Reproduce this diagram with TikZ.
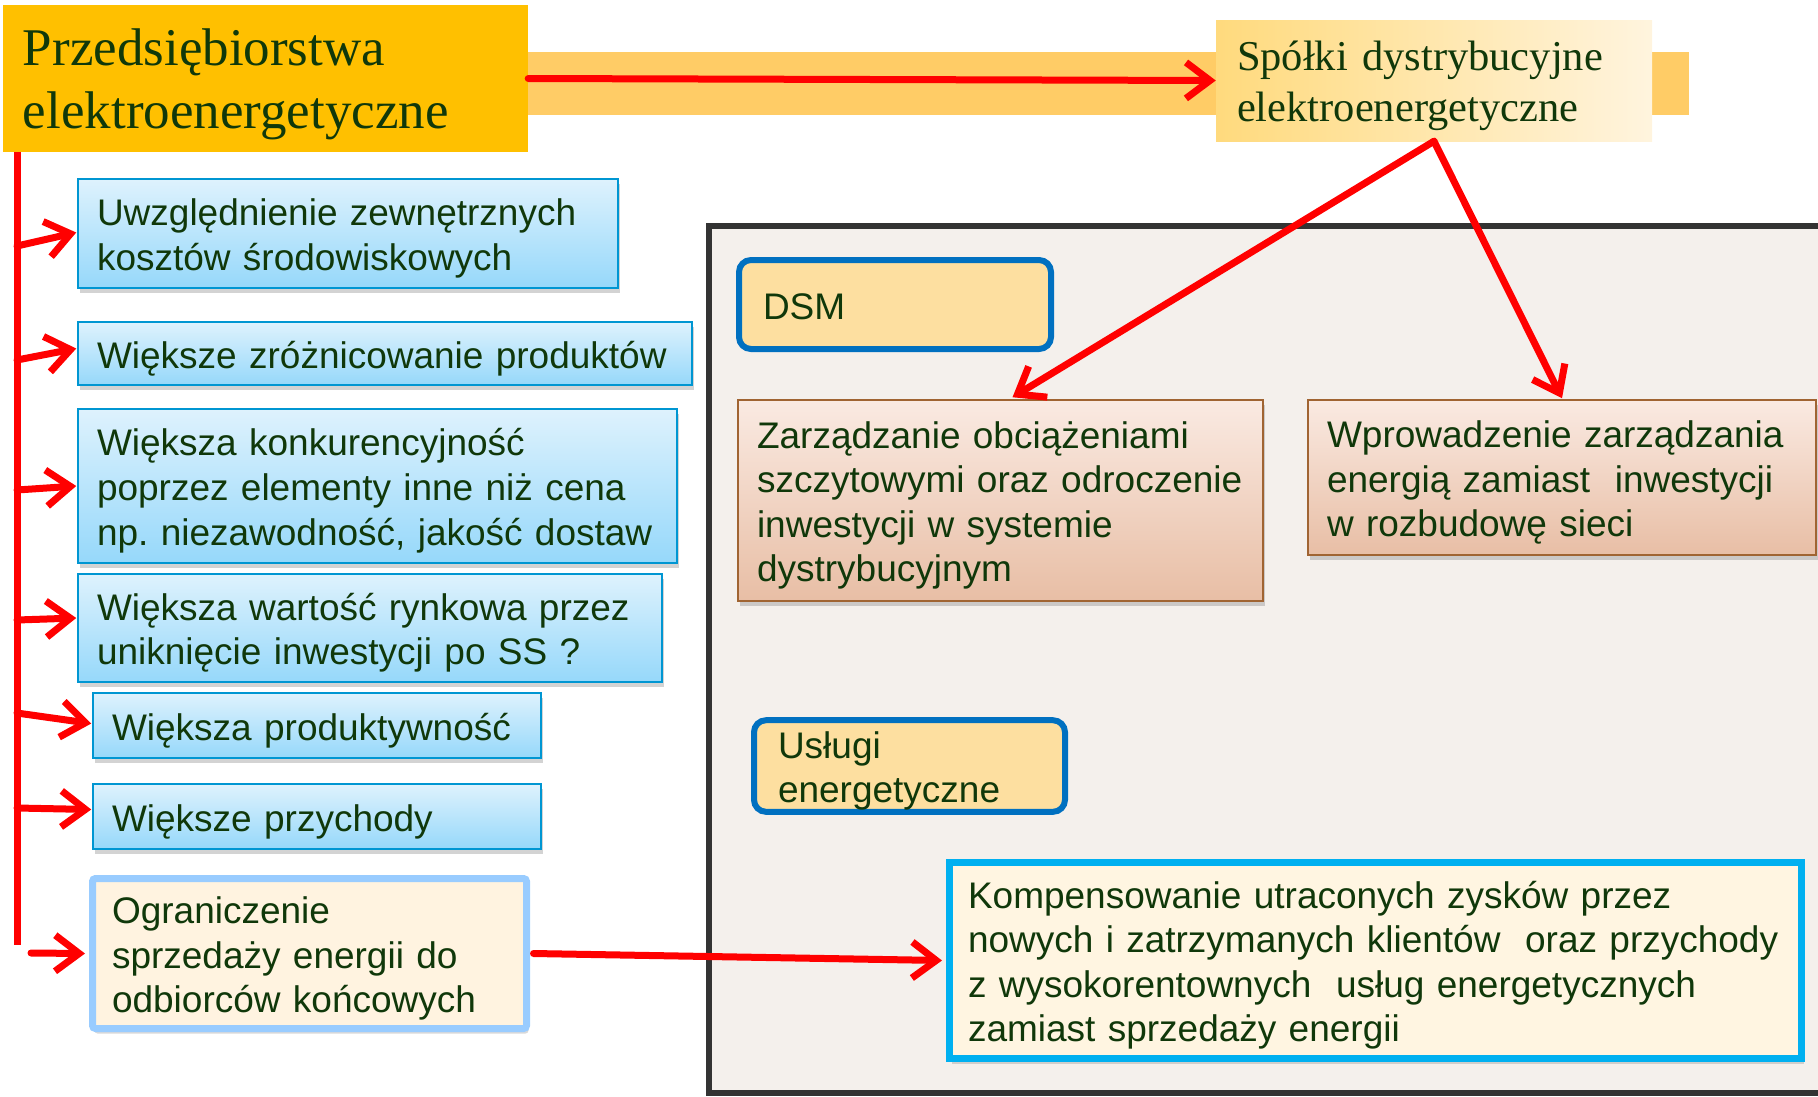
\documentclass[tikz,border=0pt]{standalone}
\usepackage{fontspec}
\newfontfamily\sansf{Liberation Sans}
\newfontfamily\seriff{Liberation Serif}
\usetikzlibrary{arrows.meta,shadows,calc}
\frenchspacing
\definecolor{tgreen}{RGB}{16,56,10}
\definecolor{orangeA}{RGB}{255,192,0}
\definecolor{bandc}{RGB}{255,204,102}
\definecolor{spl}{RGB}{255,218,125}
\definecolor{spr}{RGB}{255,244,222}
\definecolor{btop}{RGB}{222,242,253}
\definecolor{bbot}{RGB}{150,216,250}
\definecolor{bborder}{RGB}{0,150,210}
\definecolor{ogb}{RGB}{153,204,255}
\definecolor{cream}{RGB}{255,243,224}
\definecolor{panelf}{RGB}{244,240,236}
\definecolor{panelb}{RGB}{51,51,51}
\definecolor{dsmf}{RGB}{253,223,160}
\definecolor{dsmb}{RGB}{0,112,192}
\definecolor{ztop}{RGB}{250,234,226}
\definecolor{zbot}{RGB}{232,190,165}
\definecolor{zb}{RGB}{160,100,50}
\definecolor{kb}{RGB}{0,176,240}
\definecolor{kf}{RGB}{255,245,225}
\definecolor{redl}{RGB}{255,0,0}
\tikzset{
  struts/.style 2 args={execute at begin node={\rule{0pt}{#1}}, execute at end node={\rule[-#2]{0pt}{#2}}},
  sanstxt/.style={text=tgreen, align=left, font=\sansf\fontsize{37}{44.6}\selectfont, struts={38pt}{9pt}},
  bluebox/.style={sanstxt, draw=bborder, line width=1.5pt, top color=btop, bottom color=bbot,
    drop shadow={shadow xshift=2pt, shadow yshift=-5pt, opacity=0.35}, inner xsep=19pt, inner ysep=0pt},
  roundbox/.style={sanstxt, draw=dsmb, fill=dsmf, line width=6pt, rounded corners=12pt, inner xsep=24pt, inner ysep=0pt},
  brownbox/.style={sanstxt, draw=zb, line width=1.5pt, top color=ztop, bottom color=zbot,
    drop shadow={shadow xshift=2pt, shadow yshift=-5pt, opacity=0.35}, inner xsep=19pt, inner ysep=0pt},
  serifbox/.style={text=tgreen, align=left, inner ysep=0pt},
  redarrow/.style={draw=redl, line width=7pt, line cap=round, line join=round,
    -{Straight Barb[length=24pt,width=36pt]}},
  redline/.style={draw=redl, line width=7pt},
}
\begin{document}
\begin{tikzpicture}[x=1pt,y=-1pt]
\useasboundingbox (0,0) rectangle (1818,1096);
\clip (0,0) rectangle (1818,1096);
% band
\fill[bandc] (400,52) rectangle (1689,115);
% main orange box
\node[serifbox, fill=orangeA, font=\seriff\fontsize{53}{63}\selectfont, struts={48pt}{12pt},
  minimum width=525pt, minimum height=147pt, text width=485pt, inner xsep=20pt]
  (P) at (265.5,78.5) {Przedsiębiorstwa\\elektroenergetyczne};
% Spolki box
\node[serifbox, left color=spl, right color=spr, font=\seriff\fontsize{42.5}{51}\selectfont, struts={40pt}{10pt},
  minimum width=436pt, minimum height=121pt, text width=394pt, inner xsep=21pt]
  (S) at (1434,80.5) {Spółki dystrybucyjne\\elektroenergetyczne};
% panel
\draw[fill=panelf, draw=panelb, line width=6pt] (709,226) rectangle (1850,1093);
% left boxes
\node[bluebox, minimum width=540pt, minimum height=109pt, text width=502pt] (b1) at (348,233.5)
  {Uwzględnienie zewnętrznych\\kosztów środowiskowych};
\node[bluebox, minimum width=614pt, minimum height=63pt, text width=576pt] (b2) at (385,353.5)
  {Większe zróżnicowanie produktów};
\node[bluebox, minimum width=599pt, minimum height=154pt, text width=561pt] (b3) at (377.5,486)
  {Większa konkurencyjność\\poprzez elementy inne niż cena\\np. niezawodność, jakość dostaw};
\node[bluebox, minimum width=584pt, minimum height=108pt, text width=546pt] (b4) at (370,628)
  {Większa wartość rynkowa przez\\uniknięcie inwestycji po SS ?};
\node[bluebox, minimum width=448pt, minimum height=65pt, text width=410pt] (b5) at (317,725.5)
  {Większa produktywność};
\node[bluebox, minimum width=448pt, minimum height=65pt, text width=410pt] (b6) at (317,816.5)
  {Większe przychody};
\node[sanstxt, draw=ogb, fill=cream, line width=7pt, rounded corners=3pt,
  drop shadow={shadow xshift=2pt, shadow yshift=-5pt, opacity=0.3},
  minimum width=434pt, minimum height=150pt, text width=395pt, inner xsep=19.5pt, inner ysep=0pt]
  (b7) at (309.5,953.5) {Ograniczenie\\sprzedaży energii do\\odbiorców końcowych};
% right boxes
\node[roundbox, minimum width=312pt, minimum height=89pt, text width=264pt] (D) at (895,304.5) {DSM};
\node[roundbox, minimum width=311pt, minimum height=90pt, text width=263pt] (U) at (909.5,766)
  {Usługi\\energetyczne};
\node[brownbox, minimum width=525pt, minimum height=201pt, text width=487pt] (Z) at (1000.5,500.5)
  {Zarządzanie obciążeniami\\szczytowymi oraz odroczenie\\inwestycji w systemie\\dystrybucyjnym};
\node[brownbox, minimum width=508pt, minimum height=155pt, text width=470pt] (W) at (1562,477.5)
  {Wprowadzenie zarządzania\\energią zamiast \ inwestycji\\w rozbudowę sieci};
\node[sanstxt, draw=kb, fill=kf, line width=7pt,
  drop shadow={shadow xshift=2pt, shadow yshift=-5pt, opacity=0.3},
  minimum width=852pt, minimum height=196pt, text width=815pt, inner xsep=18.5pt, inner ysep=0pt]
  (K) at (1375.5,960.5)
  {Kompensowanie utraconych zysków przez\\nowych i zatrzymanych klientów \ oraz przychody\\z wysokorentownych \ usług energetycznych\\zamiast sprzedaży energii};
% vertical red line and coordinates
\coordinate (vtop) at (17,152);
\coordinate (vbot) at (17,945);
\draw[redline] (vtop) -- (vbot);
\coordinate (t1) at (17,246);
\coordinate (t2) at (17,360);
\coordinate (t3) at (17,490);
\coordinate (t4) at (17,620);
\coordinate (t5) at (17,713);
\coordinate (t6) at (17,808);
\coordinate (t7) at (31,953);
\draw[redarrow] (t1) -- ($(b1.west)+(-1,-1)$);
\draw[redarrow] (t2) -- ($(b2.west)+(-1,-5)$);
\draw[redarrow] (t3) -- ($(b3.west)+(-1,0)$);
\draw[redarrow] (t4) -- ($(b4.west)+(-1,-10)$);
\draw[redarrow] (t5) -- ($(b5.west)+(-1,-2)$);
\draw[redarrow] (t6) -- ($(b6.west)+(-1,-7)$);
\draw[redarrow] (t7) -- ($(b7.west)+(-4,0)$);
% other arrows
\draw[redarrow] (P.east) -- (S.west);
\draw[redarrow] (S.south) -- ($(Z.north)+(12,-2)$);
\draw[redarrow] (S.south) -- ($(W.north)+(0,-1)$);
\draw[redarrow] ($(b7.east)+(3.5,0)$) -- ($(K.west)+(-4,0)$);
\end{tikzpicture}
\end{document}
